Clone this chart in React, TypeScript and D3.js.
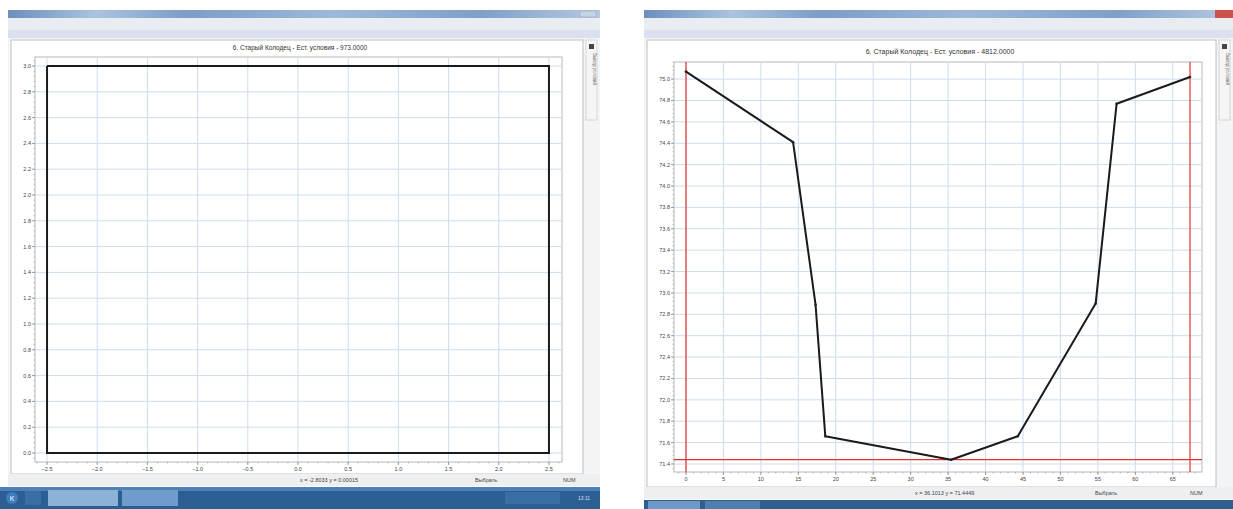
import React from 'react';
import * as d3 from 'd3';

// ---------- data ----------
const leftTitle = '6. Старый Колодец - Ест. условия - 973.0000';
const rightTitle = '6. Старый Колодец - Ест. условия - 4812.0000';

const leftXTicks = [-2.5, -2.0, -1.5, -1.0, -0.5, 0.0, 0.5, 1.0, 1.5, 2.0, 2.5];
const leftYTicks = [0.0, 0.2, 0.4, 0.6, 0.8, 1.0, 1.2, 1.4, 1.6, 1.8, 2.0, 2.2, 2.4, 2.6, 2.8, 3.0];
const boxX = [-2.5, 2.5, 2.5, -2.5, -2.5];
const boxY = [3.0, 3.0, 0.0, 0.0, 3.0];

const rightXTicks = [0, 5, 10, 15, 20, 25, 30, 35, 40, 45, 50, 55, 60, 65];
const rightYTicks = [71.4, 71.6, 71.8, 72.0, 72.2, 72.4, 72.6, 72.8, 73.0, 73.2, 73.4, 73.6, 73.8, 74.0, 74.2, 74.4, 74.6, 74.8, 75.0];
const profileX = [0, 14.3, 17.3, 18.6, 35.4, 44.3, 54.7, 57.5, 67.3];
const profileY = [75.07, 74.41, 72.89, 71.66, 71.44, 71.66, 72.9, 74.77, 75.02];
const redX = [0, 67.3];
const redY = [71.44];

const leftStatus = ['x = -2.8033  y = 0.00015', 'Выбрать', 'NUM'];
const rightStatus = ['x = 36.1013  y = 71.4449', 'Выбрать', 'NUM'];

const FONT = '"Liberation Sans", Arial, sans-serif';

type PanelProps = {
  x0: number; x1: number; y0: number; y1: number;
  xDomain: [number, number]; yDomain: [number, number];
  xTicks: number[]; yTicks: number[];
  xFmt: (v: number) => string; yFmt: (v: number) => string;
  title: string; titleX: number; titleY: number; titleSize: number;
  children?: (x: d3.ScaleLinear<number, number>, y: d3.ScaleLinear<number, number>) => React.ReactNode;
};

function Plot(p: PanelProps) {
  const x = d3.scaleLinear().domain(p.xDomain).range([p.x0, p.x1]);
  const y = d3.scaleLinear().domain(p.yDomain).range([p.y1, p.y0]);
  const xStep = p.xTicks[1] - p.xTicks[0];
  const yStep = p.yTicks[1] - p.yTicks[0];
  const xMinor: number[] = [];
  for (let v = p.xTicks[0] - xStep; v <= p.xTicks[p.xTicks.length - 1] + xStep; v += xStep / 5) {
    if (x(v) >= p.x0 && x(v) <= p.x1) xMinor.push(v);
  }
  const yMinor: number[] = [];
  for (let v = p.yTicks[0] - yStep; v <= p.yTicks[p.yTicks.length - 1] + yStep; v += yStep / 5) {
    if (y(v) >= p.y0 && y(v) <= p.y1) yMinor.push(v);
  }
  return (
    <g>
      <text x={p.titleX} y={p.titleY} fontSize={p.titleSize} fill="#333" textAnchor="middle" fontFamily={FONT}>{p.title}</text>
      <rect x={p.x0} y={p.y0} width={p.x1 - p.x0} height={p.y1 - p.y0} fill="#fff" stroke="#b8b8b8" strokeWidth={1} />
      {p.xTicks.map((v) => (
        <line key={'gx' + v} x1={x(v)} x2={x(v)} y1={p.y0} y2={p.y1} stroke="#cddcf0" strokeWidth={1} />
      ))}
      {p.yTicks.map((v) => (
        <line key={'gy' + v} x1={p.x0} x2={p.x1} y1={y(v)} y2={y(v)} stroke="#cddcf0" strokeWidth={1} />
      ))}
      {xMinor.map((v, i) => (
        <line key={'mx' + i} x1={x(v)} x2={x(v)} y1={p.y1} y2={p.y1 + 1.5} stroke="#999" strokeWidth={0.6} />
      ))}
      {yMinor.map((v, i) => (
        <line key={'my' + i} x1={p.x0 - 1.5} x2={p.x0} y1={y(v)} y2={y(v)} stroke="#999" strokeWidth={0.6} />
      ))}
      {p.xTicks.map((v) => (
        <g key={'tx' + v}>
          <line x1={x(v)} x2={x(v)} y1={p.y1} y2={p.y1 + 3} stroke="#888" strokeWidth={0.8} />
          <text x={x(v)} y={p.y1 + 9} fontSize={5.5} fill="#444" textAnchor="middle" fontFamily={FONT}>{p.xFmt(v)}</text>
        </g>
      ))}
      {p.yTicks.map((v) => (
        <g key={'ty' + v}>
          <line x1={p.x0 - 3} x2={p.x0} y1={y(v)} y2={y(v)} stroke="#888" strokeWidth={0.8} />
          <text x={p.x0 - 4} y={y(v) + 2} fontSize={5.5} fill="#444" textAnchor="end" fontFamily={FONT}>{p.yFmt(v)}</text>
        </g>
      ))}
      {p.children ? p.children(x, y) : null}
    </g>
  );
}

function Window(props: { x0: number; x1: number; panelBottom: number; statusY: number; status: string[]; statusX: number[]; redClose?: boolean }) {
  const { x0, x1 } = props;
  return (
    <g>
      <defs>
        <linearGradient id={'tb' + x0} x1="0" x2="1" y1="0" y2="0">
          <stop offset="0" stopColor="#6d8fbd" />
          <stop offset="0.15" stopColor="#aac3e0" />
          <stop offset="0.3" stopColor="#7d9cc6" />
          <stop offset="0.55" stopColor="#9db8da" />
          <stop offset="0.8" stopColor="#7f9fc8" />
          <stop offset="1" stopColor="#b5c9e2" />
        </linearGradient>
      </defs>
      <rect x={x0} y={10} width={x1 - x0} height={8} fill={`url(#tb${x0})`} />
      <rect x={x0} y={18} width={x1 - x0} height={14} fill="#e9ecf1" />
      <rect x={x0} y={30} width={x1 - x0} height={8} fill="#dcdff0" />
      <rect x={x0} y={38} width={x1 - x0} height={props.statusY - 38} fill="#f3f4f6" />
      <rect x={x0 + 3} y={40} width={x1 - x0 - 20} height={props.panelBottom - 40} fill="#ffffff" stroke="#c0c0c0" strokeWidth={1} />
      {/* right vertical tab */}
      <rect x={x1 - 14} y={40} width={11} height={80} fill="#f5f5f5" stroke="#cfcfcf" strokeWidth={0.8} />
      <rect x={x1 - 11} y={44} width={5} height={5} fill="#444" />
      <text transform={`translate(${x1 - 7},${53}) rotate(90)`} fontSize={4.5} fill="#777" fontFamily={FONT}>Вывод условий</text>
      {props.redClose ? <rect x={x1 - 18} y={10} width={18} height={8} fill="#c9524a" /> : <rect x={x1 - 20} y={11} width={16} height={6} fill="#c7d3e3" stroke="#8aa0bf" strokeWidth={0.5} />}
      {/* status bar */}
      <rect x={x0} y={props.statusY} width={x1 - x0} height={12} fill="#eeeff1" />
      {props.status.map((s, i) => (
        <text key={i} x={props.statusX[i]} y={props.statusY + 8} fontSize={5.5} fill="#444" fontFamily={FONT}>{s}</text>
      ))}
    </g>
  );
}

export default function App() {
  const line = (x: d3.ScaleLinear<number, number>, y: d3.ScaleLinear<number, number>, xs: number[], ys: number[]) =>
    d3.line<number>().x((_, i) => x(xs[i])).y((_, i) => y(ys[i]))(xs.map((_, i) => i)) || '';

  return (
    <svg width={1233} height={509} style={{ position: 'absolute', left: 0, top: 0, background: '#fff' }}>
      <rect x={0} y={0} width={1233} height={509} fill="#fff" />

      {/* Left window */}
      <Window x0={8} x1={600} panelBottom={474} statusY={474} status={leftStatus} statusX={[300, 475, 563]} />
      <Plot
        x0={35} x1={562} y0={57} y1={462}
        xDomain={[-2.62, 2.63]} yDomain={[-0.07, 3.07]}
        xTicks={leftXTicks} yTicks={leftYTicks}
        xFmt={(v) => d3.format('.1f')(v)} yFmt={(v) => d3.format('.1f')(v)}
        title={leftTitle} titleX={300} titleY={50} titleSize={6.5}
      >
        {(x, y) => <path d={line(x, y, boxX, boxY)} fill="none" stroke="#1a1a1a" strokeWidth={2} />}
      </Plot>
      {/* left taskbar */}
      <rect x={0} y={487} width={600} height={22} fill="#2b5f93" />
      <rect x={0} y={487} width={600} height={4} fill="#4c80b6" />
      <circle cx={12} cy={498} r={6} fill="#3f7dc0" />
      <text x={12} y={501} fontSize={7} fill="#fff" textAnchor="middle" fontFamily={FONT}>K</text>
      <rect x={25} y={491} width={16} height={14} fill="#3a6fa6" />
      <rect x={48} y={490} width={70} height={16} fill="#8db2d8" />
      <rect x={122} y={490} width={56} height={16} fill="#6f9ccb" />
      <rect x={505} y={492} width={55} height={12} fill="#3a6fa6" />
      <text x={578} y={500} fontSize={5} fill="#dde" fontFamily={FONT}>13:11</text>

      {/* Right window */}
      <Window x0={644} x1={1233} panelBottom={487} statusY={487} status={rightStatus} statusX={[915, 1095, 1190]} redClose />
      <Plot
        x0={674} x1={1202} y0={62} y1={472}
        xDomain={[-1.6, 68.9]} yDomain={[71.325, 75.16]}
        xTicks={rightXTicks} yTicks={rightYTicks}
        xFmt={(v) => d3.format('d')(v)} yFmt={(v) => d3.format('.1f')(v)}
        title={rightTitle} titleX={940} titleY={54} titleSize={7}
      >
        {(x, y) => (
          <g>
            {redX.map((v) => (
              <line key={'rx' + v} x1={x(v)} x2={x(v)} y1={62} y2={472} stroke="#e53030" strokeWidth={1.2} />
            ))}
            {redY.map((v) => (
              <line key={'ry' + v} x1={674} x2={1202} y1={y(v)} y2={y(v)} stroke="#e53030" strokeWidth={1.2} />
            ))}
            <path d={line(x, y, profileX, profileY)} fill="none" stroke="#1a1a1a" strokeWidth={2} strokeLinejoin="round" />
            {profileX.map((v, i) => (
              <circle key={'p' + i} cx={x(v)} cy={y(profileY[i])} r={1.3} fill="#222" />
            ))}
          </g>
        )}
      </Plot>
      {/* right taskbar */}
      <rect x={644} y={500} width={589} height={9} fill="#2e5f91" />
      <rect x={648} y={501} width={52} height={8} fill="#6d99c8" />
      <rect x={705} y={501} width={55} height={8} fill="#4f7fb1" />
    </svg>
  );
}
